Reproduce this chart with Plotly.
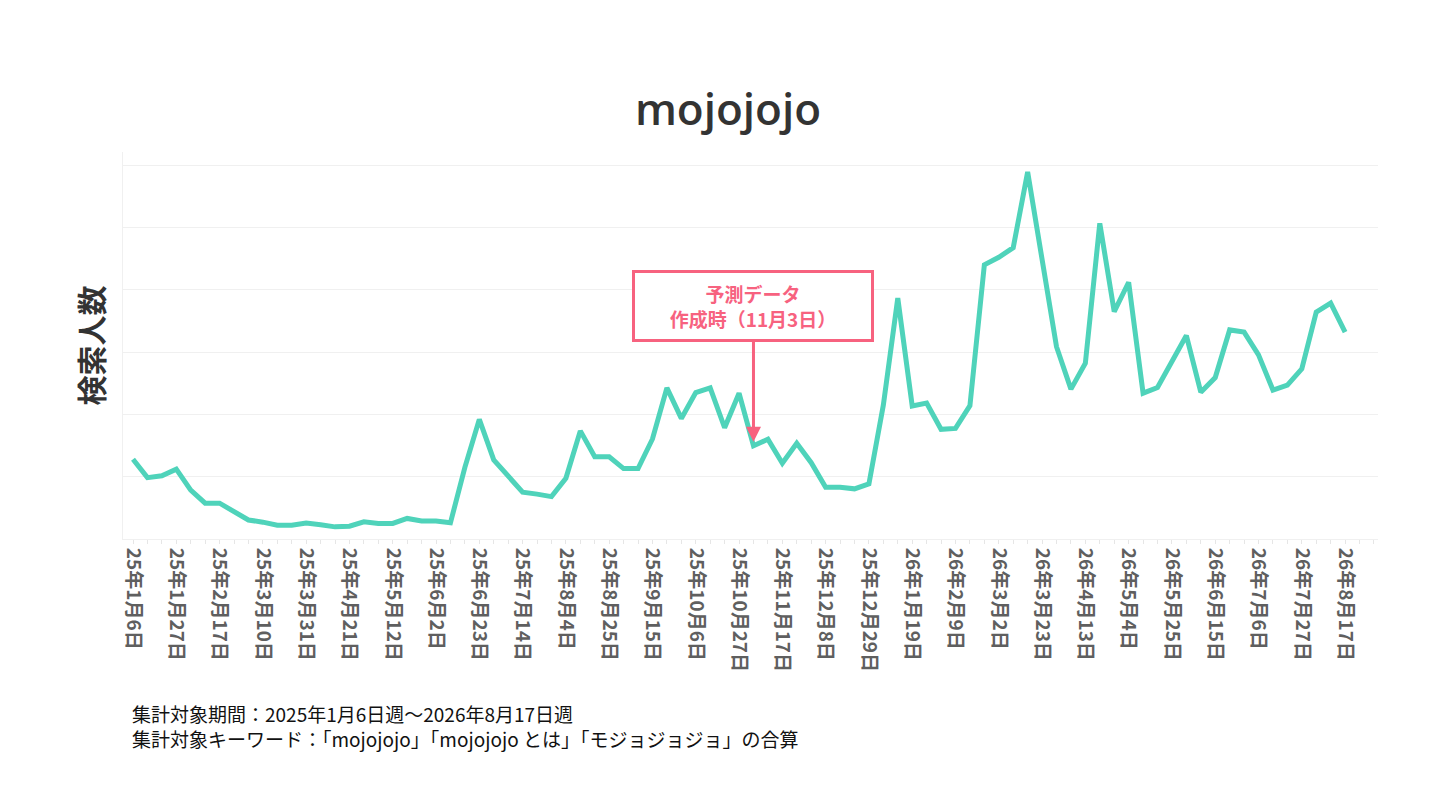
import pandas as pd
import plotly.graph_objects as go

# Weekly categories (week start dates)
weeks = pd.date_range("2025-01-06", "2026-08-17", freq="7D")

# Search volume index (arbitrary units, gridline step = 20)
search_values = [
    25.6, 19.7, 20.3, 22.4, 15.7, 11.5, 11.5, 8.6, 6.1, 5.4,
    4.4, 4.4, 5.1, 4.6, 3.9, 4.1, 5.5, 5.0, 5.0, 6.6,
    5.8, 5.8, 5.2, 23.0, 38.4, 25.4, 20.2, 15.0, 14.4, 13.6,
    19.5, 34.7, 26.4, 26.4, 22.6, 22.6, 32.1, 48.5, 38.7, 47.0,
    48.5, 35.7, 46.8, 29.9, 32.0, 24.3, 30.7, 24.5, 16.6, 16.6,
    16.1, 17.7, 43.0, 77.3, 42.7, 43.6, 35.2, 35.5, 42.8, 88.0,
    90.4, 93.5, 117.8, 89.6, 61.7, 48.1, 56.4, 101.3, 73.0, 82.4,
    46.8, 48.6, 56.9, 65.3, 47.1, 51.8, 67.1, 66.4, 59.1, 47.8,
    49.4, 54.6, 72.8, 75.7, 66.4,
]

tick_labels = [
    "25年1月6日", "25年1月27日", "25年2月17日", "25年3月10日", "25年3月31日",
    "25年4月21日", "25年5月12日", "25年6月2日", "25年6月23日", "25年7月14日",
    "25年8月4日", "25年8月25日", "25年9月15日", "25年10月6日", "25年10月27日",
    "25年11月17日", "25年12月8日", "25年12月29日", "26年1月19日", "26年2月9日",
    "26年3月2日", "26年3月23日", "26年4月13日", "26年5月4日", "26年5月25日",
    "26年6月15日", "26年7月6日", "26年7月27日", "26年8月17日",
]
tick_dates = list(weeks[::3])

forecast_date = pd.Timestamp("2025-11-03")
forecast_label = "<b>予測データ<br>作成時（11月3日）</b>"
forecast_value = search_values[list(weeks).index(forecast_date)]

footnotes = [
    "集計対象期間：2025年1月6日週〜2026年8月17日週",
    "集計対象キーワード：「mojojojo」「mojojojo とは」「モジョジョジョ」の合算",
]

LINE = "#4FD3BA"
PINK = "#F7627F"
CJK = "Noto Sans CJK JP"

fig = go.Figure()
fig.add_trace(go.Scatter(
    x=weeks, y=search_values, mode="lines",
    line=dict(color=LINE, width=5), hoverinfo="x+y", showlegend=False,
))

week = pd.Timedelta(days=7)
fig.update_xaxes(
    type="date",
    range=[weeks[0] - 0.693 * week, weeks[0] + 86.28 * week],
    tickvals=tick_dates, ticktext=tick_labels, tickangle=90,
    tickfont=dict(family=CJK, size=19, color="#5f5f5f", weight="bold"),
    ticks="outside", ticklen=4, tickcolor="#e6e6e6",
    minor=dict(ticks="outside", ticklen=4, tickcolor="#e6e6e6",
               dtick=7 * 86400000, tick0="2025-01-06", showgrid=False),
    showgrid=False, showline=True, linecolor="#f0f0f0", linewidth=1,
    zeroline=False,
)
fig.update_yaxes(
    range=[0, 124.2], dtick=20, showticklabels=False,
    showgrid=True, gridcolor="#f0f0f0", gridwidth=1,
    showline=True, linecolor="#f0f0f0", linewidth=1, zeroline=False,
    title=dict(text="<b>検索人数</b>", font=dict(family=CJK, size=30, color="#333333"),
               standoff=9),
)

fig.add_annotation(
    x=forecast_date, y=forecast_value, xref="x", yref="y",
    text=forecast_label, showarrow=True,
    ax=0, ay=-140, axref="pixel", ayref="pixel",
    arrowcolor=PINK, arrowwidth=3, arrowhead=2, arrowsize=1, standoff=4,
    font=dict(family=CJK, size=19, color=PINK),
    bgcolor="white", bordercolor=PINK, borderwidth=3, borderpad=2,
    width=232, height=62, align="center",
)

fig.add_annotation(
    x=0, y=0, xref="paper", yref="paper",
    xanchor="left", yanchor="middle", xshift=7, yshift=-187,
    text="<br>".join(footnotes), showarrow=False, align="left",
    font=dict(family=CJK, size=19, color="#111111"),
)

fig.update_layout(
    width=1440, height=810,
    paper_bgcolor="white", plot_bgcolor="white",
    margin=dict(l=115, r=70, t=144, b=279),
    title=dict(text="mojojojo", x=0.5, xanchor="center", y=0.874, yanchor="middle",
               font=dict(family="Open Sans", size=44, color="#333333", weight=600)),
)

fig.write_html("out.html")
